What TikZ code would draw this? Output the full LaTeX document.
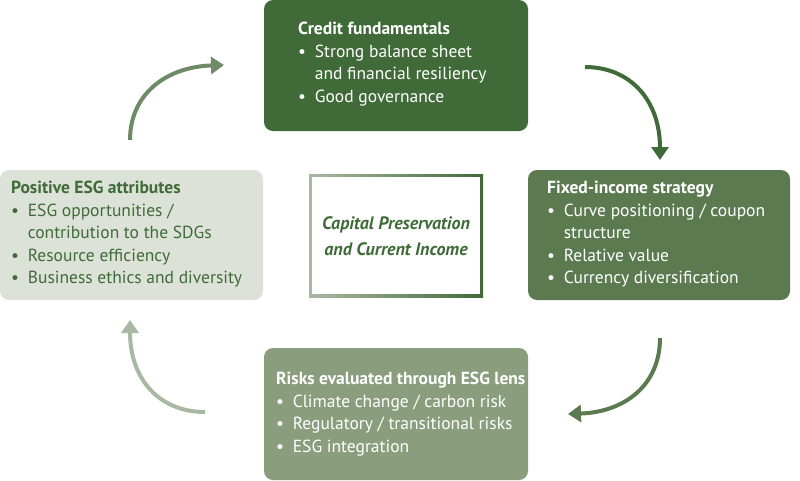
\documentclass[tikz,border=0pt]{standalone}
\usepackage{fontspec}
\setmainfont{PT Sans}
\usetikzlibrary{arrows.meta}
\definecolor{cA}{HTML}{406B38}
\definecolor{cB}{HTML}{5C7A50}
\definecolor{cC}{HTML}{8A9E7E}
\definecolor{cD}{HTML}{DDE2D8}
\definecolor{tD}{HTML}{3F6B38}
\definecolor{aA}{HTML}{6F8A66}
\definecolor{aL}{HTML}{A9B8A1}
\begin{document}
\begin{tikzpicture}[x=1pt,y=-1pt,
 txt/.style={anchor=north west,align=left,font=\fontsize{17.5}{22.5}\selectfont,inner sep=0pt},
 arr/.style={line width=4pt,-{Triangle[length=13pt,width=17pt]}}]
\useasboundingbox (0,0) rectangle (800,480);
\fill[cA,rounded corners=9pt] (264,0) rectangle (528,131);
\fill[cB,rounded corners=9pt] (528,170) rectangle (790,300);
\fill[cC,rounded corners=9pt] (264,348) rectangle (528,480);
\fill[cD,rounded corners=9pt] (0,170) rectangle (263,300);
\node[txt,text=white] (t) at (298,22) {\textbf{Credit fundamentals}\\
\textbullet\enspace Strong balance sheet\\ \hphantom{\textbullet\enspace}and financial resiliency\\ \textbullet\enspace Good governance};
\node[txt,text=white] (r) at (547,181) {\textbf{Fixed-income strategy}\\
\textbullet\enspace Curve positioning / coupon\\ \hphantom{\textbullet\enspace}structure\\ \textbullet\enspace Relative value\\ \textbullet\enspace Currency diversification};
\node[txt,text=white] (b) at (276,372) {\textbf{Risks evaluated through ESG lens}\\
\textbullet\enspace Climate change / carbon risk\\ \textbullet\enspace Regulatory / transitional risks\\ \textbullet\enspace ESG integration};
\node[txt,text=tD] (l) at (11,181) {\textbf{Positive ESG attributes}\\
\textbullet\enspace ESG opportunities /\\ \hphantom{\textbullet\enspace}contribution to the SDGs\\ \textbullet\enspace Resource efficiency\\ \textbullet\enspace Business ethics and diversity};
\shade[left color=aL,right color=cA] (309,174) rectangle (483,297);
\fill[white] (312,177) rectangle (480,294);
\node[text=tD,align=center,font=\fontsize{18}{26}\selectfont\bfseries\itshape] (c) at (396,236) {Capital Preservation\\and Current Income};
\coordinate (a1) at (130,140); \coordinate (a1e) at (224,65);
\coordinate (a2) at (585,67); \coordinate (a2e) at (660,160);
\coordinate (a3) at (660,338); \coordinate (a3e) at (568,414);
\coordinate (a4) at (205,412); \coordinate (a4e) at (130,320);
\draw[arr,aA] (a1) .. controls (130,95) and (165,67) .. (a1e);
\draw[arr,cA] (a2) .. controls (630,67) and (660,100) .. (a2e);
\draw[arr,cB] (a3) .. controls (660,385) and (625,412) .. (a3e);
\draw[arr,aL] (a4) .. controls (160,412) and (130,380) .. (a4e);
\end{tikzpicture}
\end{document}
